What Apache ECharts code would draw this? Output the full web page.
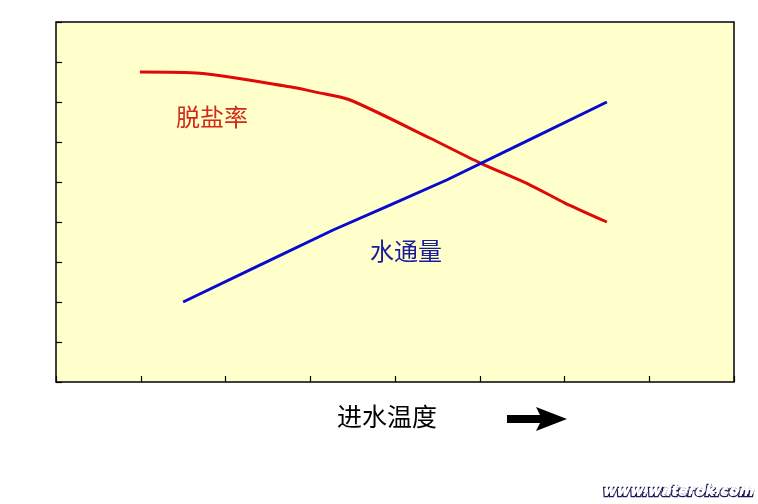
<!DOCTYPE html>
<html><head><meta charset="utf-8">
<script src="https://cdn.jsdelivr.net/npm/echarts@6/dist/echarts.min.js"></script>
<style>html,body{margin:0;padding:0;background:#fff}#c{width:758px;height:504px}</style>
</head><body><div id="c"></div>
<script>
// 脱盐率 (salt rejection) — x: temperature position, y: relative level
const rejX = [0.99, 1.70, 2.76, 3.08, 3.47, 4.41, 5.00, 5.59, 6.00, 6.50];
const rejY = [7.75, 7.72, 7.38, 7.24, 7.05, 6.10, 5.48, 4.93, 4.48, 4.00];
// 水通量 (water flux)
const fluxX = [1.50, 3.27, 4.61, 6.50];
const fluxY = [2.00, 3.80, 5.05, 7.00];
const labels = { rejection: '脱盐率', flux: '水通量', xName: '进水温度', watermark: 'www.waterok.com' };

const chart = echarts.init(document.getElementById('c'));
const font = '"Noto Sans CJK SC", sans-serif';
chart.setOption({
  animation: false,
  backgroundColor: '#ffffff',
  grid: { left: 56, top: 22, right: 24, bottom: 122, show: true, backgroundColor: '#ffffcc', borderColor: '#000', borderWidth: 1.5 },
  xAxis: { type: 'value', min: 0, max: 8, interval: 1,
    axisLine: { show: false }, axisLabel: { show: false }, splitLine: { show: false },
    axisTick: { show: true, inside: true, length: 6, lineStyle: { color: '#000', width: 1.2 } } },
  yAxis: { type: 'value', min: 0, max: 9, interval: 1,
    axisLine: { show: false }, axisLabel: { show: false }, splitLine: { show: false },
    axisTick: { show: true, inside: true, length: 6, lineStyle: { color: '#000', width: 1.2 } } },
  series: [
    { type: 'line', data: rejX.map((x, i) => [x, rejY[i]]), smooth: 0.25, symbol: 'none',
      lineStyle: { color: '#e00808', width: 3 } },
    { type: 'line', data: fluxX.map((x, i) => [x, fluxY[i]]), smooth: 0.1, symbol: 'none',
      lineStyle: { color: '#0a0acc', width: 3 } }
  ],
  graphic: [
    { type: 'text', left: 176, top: 105, style: { text: labels.rejection, font: '24px ' + font, fill: '#d02a1a' } },
    { type: 'text', left: 370, top: 239, style: { text: labels.flux, font: '24px ' + font, fill: '#1a1a9a' } },
    { type: 'text', left: 337, top: 404, style: { text: labels.xName, font: '25px ' + font, fill: '#000' } },
    { type: 'polygon', shape: { points: [[507,415],[540,415],[536,407],[567,419],[536,431],[540,423],[507,423]] },
      style: { fill: '#000' } },
    { type: 'text', right: 3, top: 483, style: { text: labels.watermark, font: 'italic bold 14.5px "DejaVu Sans", sans-serif',
      fill: '#ffffff', stroke: '#1a1a5a', lineWidth: 2.5 } },
    { type: 'text', right: 3, top: 483, style: { text: labels.watermark, font: 'italic bold 14.5px "DejaVu Sans", sans-serif',
      fill: '#ffffff' } }
  ]
});
</script></body></html>
